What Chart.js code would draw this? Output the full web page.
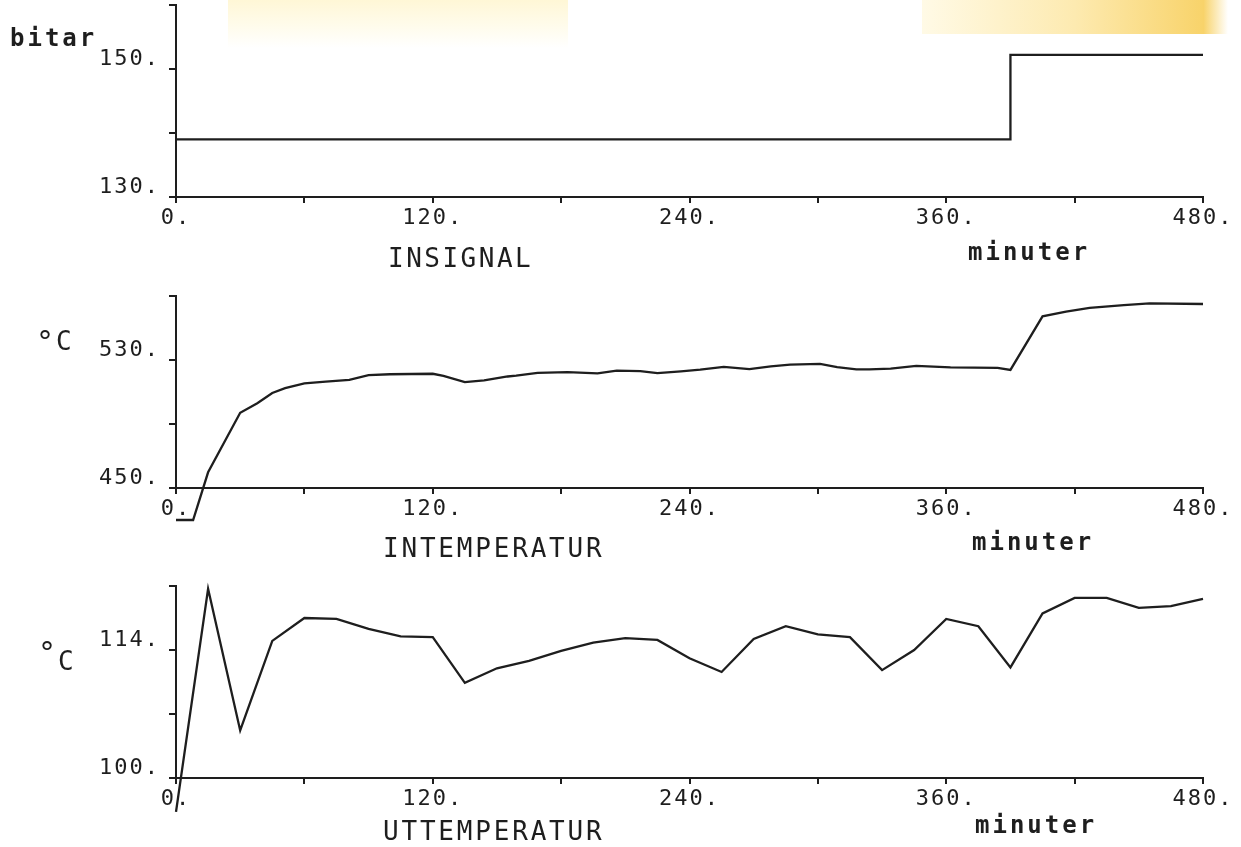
<!DOCTYPE html>
<html>
<head>
<meta charset="utf-8">
<title>INSIGNAL / INTEMPERATUR / UTTEMPERATUR</title>
<script src="https://cdn.jsdelivr.net/npm/chart.js@4.4.1/dist/chart.umd.min.js"></script>
<style>
  html, body { margin: 0; padding: 0; background: #fff; }
  #page { position: relative; width: 1241px; height: 847px; overflow: hidden; background: #fff; }
  .smear { position: absolute; }
  canvas { position: absolute; left: 0; }
</style>
</head>
<body>
<div id="page">
  <div class="smear" style="left:228px;top:0;width:340px;height:48px;background:linear-gradient(180deg,#fff7d6 0%,#fffcee 60%,rgba(255,255,255,0) 100%);"></div>
  <div class="smear" style="left:922px;top:0;width:306px;height:34px;background:linear-gradient(90deg,#fffae6 0%,#fdeab0 50%,#f8d36a 92%,rgba(255,255,255,0) 100%);"></div>
  <canvas id="insignal" width="1241" height="282" style="top:0"></canvas>
  <canvas id="intemp" width="1241" height="285" style="top:282px"></canvas>
  <canvas id="uttemp" width="1241" height="280" style="top:567px"></canvas>
</div>
<script>
// time axis, minutes
const xMin = 0;
const xMax = 480;
const xStep = 60;
const xLabelEvery = 120;

// INSIGNAL (bitar) - step input
const insignalTime = [0, 390, 480];
const insignalValues = [139.0, 152.2, 152.2];
const insignalYTicks = [130, 160, 10];      // min, max, step
const insignalYLabels = [130, 150];

// INTEMPERATUR (°C)
const intempTime = [0, 8, 15, 30, 38, 45, 51, 60, 70, 81,
  90, 100, 120, 125, 135, 144, 155, 159, 169, 183,
  197, 206, 217, 225, 236, 245, 256, 268, 278, 287,
  301, 309, 318, 324, 334, 346, 362, 384, 390, 405,
  416, 427, 443, 455, 480];
const intempValues = [430, 430, 459.8, 497, 503, 509.4, 512.4, 515.4, 516.5, 517.6,
  520.6, 521.1, 521.4, 520.1, 516.2, 517.3, 519.7, 520.2, 521.9, 522.4,
  521.6, 523.3, 523.1, 521.8, 522.9, 524.0, 525.7, 524.3, 526.0, 527.1,
  527.6, 525.6, 524.2, 524.1, 524.6, 526.3, 525.4, 525.1, 523.8, 557.3,
  560.3, 562.6, 564.3, 565.4, 565.0];
const intempYTicks = [450, 570, 40];
const intempYLabels = [450, 530];

// UTTEMPERATUR (°C)
const uttempTime = [0, 15, 30, 45, 60, 75, 90, 105, 120, 135,
  150, 165, 180, 195, 210, 225, 240, 255, 270, 285,
  300, 315, 330, 345, 360, 375, 390, 405, 420, 435,
  450, 465, 480];
const uttempValues = [96.3, 120.7, 105.2, 115.0, 117.5, 117.4, 116.3, 115.5, 115.4, 110.4,
  112.0, 112.8, 113.9, 114.8, 115.3, 115.1, 113.1, 111.6, 115.2, 116.6,
  115.7, 115.4, 111.8, 114.0, 117.4, 116.6, 112.1, 118.0, 119.7, 119.7,
  118.6, 118.8, 119.6];
const uttempYTicks = [100, 121, 7];
const uttempYLabels = [100, 114];

const INK = '#1e1e1e';
const MONO = '"DejaVu Sans Mono", "Liberation Mono", monospace';

// plotter-like spacing for every text, plus the free texts of each panel
const plotterText = {
  id: 'plotterText',
  beforeDraw(chart) {
    chart.ctx.letterSpacing = '2px';
  },
  afterDraw(chart, args, opts) {
    const ctx = chart.ctx;
    ctx.save();
    ctx.fillStyle = INK;
    ctx.textAlign = 'left';
    ctx.textBaseline = 'alphabetic';
    for (const t of opts.items || []) {
      ctx.font = t.font;
      ctx.letterSpacing = t.spacing || '2px';
      ctx.fillText(t.text, t.x, t.y);
    }
    ctx.restore();
  }
};

function makePanel(id, time, values, yTicks, yLabels, padTop, xHeight, items, stepped) {
  const points = time.map((t, i) => ({ x: t, y: values[i] }));
  return new Chart(document.getElementById(id), {
    type: 'line',
    data: {
      datasets: [{
        data: points,
        borderColor: INK,
        borderWidth: 2.3,
        pointRadius: 0,
        tension: 0,
        stepped: stepped,
        clip: false
      }]
    },
    options: {
      responsive: false,
      animation: false,
      layout: { padding: { top: padTop, right: 38, bottom: 0, left: 0 } },
      plugins: {
        legend: { display: false },
        tooltip: { enabled: false },
        plotterText: { items: items }
      },
      scales: {
        x: {
          type: 'linear',
          min: xMin,
          max: xMax,
          border: { display: true, color: INK, width: 2 },
          grid: { drawOnChartArea: false, drawTicks: true, tickLength: 6, color: INK, lineWidth: 2 },
          ticks: {
            stepSize: xStep,
            autoSkip: false,
            maxRotation: 0,
            padding: 2,
            color: INK,
            font: { family: MONO, size: 22 },
            callback: v => (v % xLabelEvery === 0 ? v + '.' : '')
          },
          afterFit(scale) {
            scale.height = xHeight;
            scale.paddingLeft = 0;
            scale.paddingRight = 0;
          }
        },
        y: {
          type: 'linear',
          min: yTicks[0],
          max: yTicks[1],
          border: { display: true, color: INK, width: 2 },
          grid: { drawOnChartArea: false, drawTicks: true, tickLength: 7, color: INK, lineWidth: 2 },
          ticks: {
            stepSize: yTicks[2],
            autoSkip: false,
            padding: 9,
            labelOffset: -10,
            color: INK,
            font: { family: MONO, size: 22 },
            callback: v => (yLabels.includes(v) ? v + '.' : '')
          },
          afterFit(scale) {
            scale.width = 176;
            scale.paddingTop = 0;
            scale.paddingBottom = 0;
          }
        }
      }
    },
    plugins: [plotterText]
  });
}

const titleFont = '26px ' + MONO;
const unitFont = 'bold 24px ' + MONO;
const degFont = '30px ' + MONO;

makePanel('insignal', insignalTime, insignalValues, insignalYTicks, insignalYLabels, 5, 85, [
  { text: 'bitar', x: 10, y: 46, font: unitFont, spacing: '3px' },
  { text: 'INSIGNAL', x: 388, y: 267, font: titleFont, spacing: '2.5px' },
  { text: 'minuter', x: 968, y: 260, font: unitFont, spacing: '3px' }
], true);

makePanel('intemp', intempTime, intempValues, intempYTicks, intempYLabels, 14, 79, [
  { text: '°', x: 36, y: 70, font: degFont, spacing: '0px' },
  { text: 'C', x: 56, y: 68, font: titleFont, spacing: '0px' },
  { text: 'INTEMPERATUR', x: 383, y: 275, font: titleFont, spacing: '2.8px' },
  { text: 'minuter', x: 972, y: 268, font: unitFont, spacing: '3px' }
], false);

makePanel('uttemp', uttempTime, uttempValues, uttempYTicks, uttempYLabels, 19, 69, [
  { text: '°', x: 38, y: 96, font: degFont, spacing: '0px' },
  { text: 'C', x: 58, y: 103, font: titleFont, spacing: '0px' },
  { text: 'UTTEMPERATUR', x: 383, y: 273, font: titleFont, spacing: '2.8px' },
  { text: 'minuter', x: 975, y: 266, font: unitFont, spacing: '3px' }
], false);
</script>
</body>
</html>
